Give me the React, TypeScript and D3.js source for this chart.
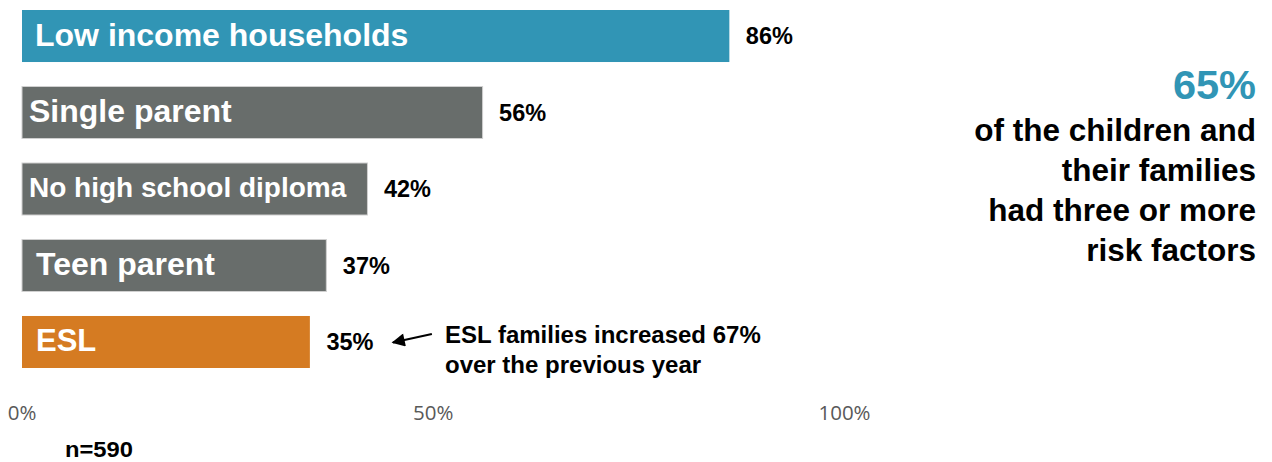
import React from "react";
import * as d3 from "d3";

const categories = ["Low income households", "Single parent", "No high school diploma", "Teen parent", "ESL"];
const values = [86, 56, 42, 37, 35];
const barColors = ["#3195b5", "#686d6b", "#686d6b", "#686d6b", "#d57b22"];
const labelSizes = [32, 32, 28, 32, 31];
const labelInset = [13, 7, 7, 14, 14];
const tickValues = [0, 50, 100];
const headline = "65%";
const headlineLines = ["of the children and", "their families", "had three or more", "risk factors"];
const noteLines = ["ESL families increased 67%", "over the previous year"];
const sampleNote = "n=590";

const W = 1272;
const H = 462;
const FONT = "'Liberation Sans', Arial, sans-serif";

export default function App() {
  const x = d3.scaleLinear().domain([0, 100]).range([22, 844.5]);
  const y = d3
    .scaleBand<string>()
    .domain(categories)
    .range([10, 368])
    .paddingInner(0.32)
    .paddingOuter(0);
  const bw = y.bandwidth();
  const eslY = (y("ESL") as number) + bw / 2;
  const arrowTipX = x(values[4]) + 80;

  return (
    <svg
      width={W}
      height={H}
      style={{ position: "absolute", left: 0, top: 0, background: "#fff" }}
      fontFamily={FONT}
    >
      <defs>
        <marker id="ah" viewBox="0 0 10 10" refX="9" refY="5" markerWidth="6.5" markerHeight="6" orient="auto-start-reverse">
          <path d="M0,0 L10,5 L0,10 z" fill="#000" />
        </marker>
      </defs>
      {categories.map((c, i) => {
        const y0 = y(c) as number;
        const gray = barColors[i] === "#686d6b";
        return (
          <g key={c}>
            <rect
              x={x(0)}
              y={y0}
              width={x(values[i]) - x(0)}
              height={bw}
              fill={barColors[i]}
              stroke={gray ? "#d0d0d0" : "none"}
              strokeWidth={1}
            />
            <text
              x={x(0) + labelInset[i]}
              y={y0 + bw / 2}
              dy="0.3em"
              fill="#fff"
              fontWeight="bold"
              fontSize={labelSizes[i]}
            >
              {c}
            </text>
            <text
              x={x(values[i]) + 16.5}
              y={y0 + bw / 2}
              dy="0.36em"
              fill="#000"
              fontWeight="bold"
              fontSize={23.5}
            >
              {values[i]}%
            </text>
          </g>
        );
      })}

      {/* axis tick labels */}
      {tickValues.map((t) => (
        <text
          key={t}
          x={x(t)}
          y={420}
          textAnchor="middle"
          fill="#595959"
          fontFamily="'Open Sans', sans-serif"
          fontSize={20.5}
        >
          {t}%
        </text>
      ))}

      {/* annotation */}
      <line
        x1={arrowTipX + 42}
        y1={eslY - 8}
        x2={arrowTipX + 3}
        y2={eslY + 0.5}
        stroke="#000"
        strokeWidth={2.2}
        markerEnd="url(#ah)"
      />
      {noteLines.map((l, i) => (
        <text key={l} x={445} y={343 + i * 30} fontWeight="bold" fontSize={24} fill="#000">
          {l}
        </text>
      ))}

      <text x={65} y={457} fontWeight="bold" fontSize={22} fill="#000" textLength={68} lengthAdjust="spacingAndGlyphs">
        {sampleNote}
      </text>

      {/* right-side callout */}
      <text x={1256} y={99} textAnchor="end" fill="#3195b5" fontWeight="bold" fontSize={41.5}>
        {headline}
      </text>
      {headlineLines.map((l, i) => (
        <text key={l} x={1256} y={141 + i * 40} textAnchor="end" fill="#000" fontWeight="bold" fontSize={31.5}>
          {l}
        </text>
      ))}
    </svg>
  );
}
